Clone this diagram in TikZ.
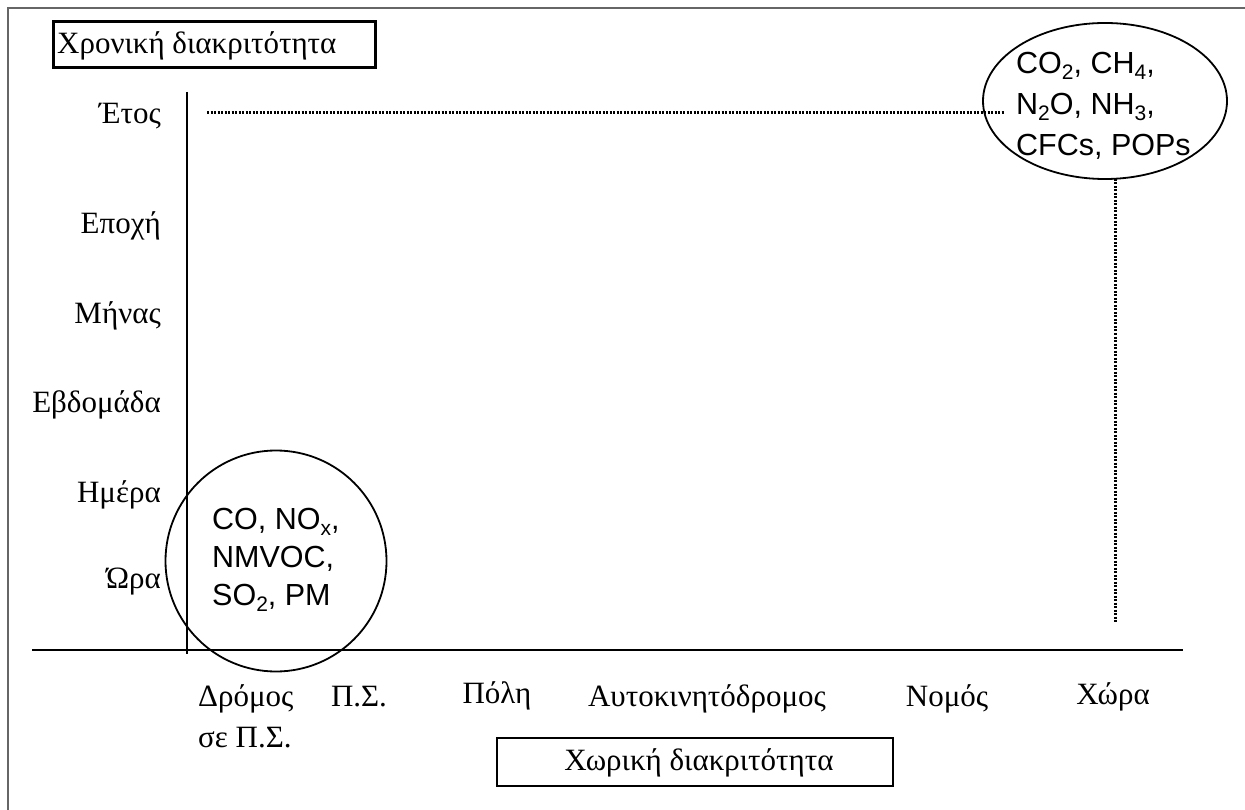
\documentclass[tikz,border=0pt]{standalone}
\usepackage{fontspec}
\setmainfont{Liberation Serif}
\newfontfamily\chemfont{Liberation Sans}
\usetikzlibrary{shapes.geometric}
\newcommand{\lowsub}[1]{{\fontsize{21}{21}\selectfont\raisebox{-0.3em}{#1}}}
\tikzset{
  lbl/.style={font=\fontsize{31}{34}\selectfont, inner sep=0pt},
  ylbl/.style={lbl, anchor=east},
  xlbl/.style={lbl, anchor=base},
  chem/.style={font=\chemfont\fontsize{30.5}{38}\selectfont, align=left, inner sep=0pt, anchor=west},
  axis/.style={line width=2pt},
  dots/.style={line width=3pt, dash pattern=on 2pt off 1.5pt},
  ring/.style={draw, line width=1.8pt, inner sep=0pt}
}
\begin{document}
\begin{tikzpicture}[x=1pt, y=-1pt]
\useasboundingbox (0,0) rectangle (1245,810);
\fill[white] (0,0) rectangle (1245,810);
% page frame
\draw[line width=1.5pt, black!60] (8,810) -- (8,8) -- (1245,8);

% axes
\coordinate (yt) at (187,92);
\coordinate (yb) at (187,654);
\coordinate (xl) at (32,650);
\coordinate (xr) at (1183,650);
\draw[axis] (yt) -- (yb);
\draw[axis] (xl) -- (xr);

% axis titles
\node[draw, line width=3pt, minimum width=322, minimum height=46, inner sep=0pt] (ttl) at (214,45) {};
\node[lbl, anchor=west] (ttltxt) at (57,46) {Χρονική διακριτότητα};
\node[draw, line width=1.5pt, minimum width=396, minimum height=48, inner sep=0pt] (stl) at (695,762) {};
\node[lbl] (stltxt) at (699,763) {Χωρική διακριτότητα};

% time scale
\node[ylbl] (etos) at (161,116) {Έτος};
\node[ylbl] (epoxi) at (161,226) {Εποχή};
\node[ylbl] (minas) at (161,316) {Μήνας};
\node[ylbl] (evd) at (161,405) {Εβδομάδα};
\node[ylbl] (imera) at (161,495) {Ημέρα};
\node[ylbl] (ora) at (161,582) {Ώρα};

% spatial scale
\node[lbl, anchor=base west] (dromos) at (198,706) {Δρόμος};
\node[lbl, anchor=base west] (sepp) at (198,747) {σε Π.Σ.};
\node[xlbl] (ps) at (359,706) {Π.Σ.};
\node[xlbl] (poli) at (497,703) {Πόλη};
\node[xlbl] (auto) at (707,706) {Αυτοκινητόδρομος};
\node[xlbl] (nomos) at (947,706) {Νομός};
\node[xlbl] (xora) at (1113,704) {Χώρα};

% local pollutants
\node[ring, circle, minimum size=221] (loc) at (276,561) {};
\node[chem] (loctxt) at (212,560) {CO, NO\lowsub{x},\\NMVOC,\\SO\lowsub{2}, PM};

% global pollutants
\node[ring, ellipse, minimum width=244, minimum height=156] (glob) at (1105,101) {};
\node[chem, font=\chemfont\fontsize{30.5}{41}\selectfont] (globtxt) at (1016,106) {CO\lowsub{2}, CH\lowsub{4},\\N\lowsub{2}O, NH\lowsub{3},\\CFCs, POPs};

% guide lines
\coordinate (hs) at (207,113);
\coordinate (he) at (1004,113);
\coordinate (vs) at (1115,179);
\coordinate (ve) at (1115,622);
\draw[dots] (hs) -- (he);
\draw[dots] (vs) -- (ve);
\end{tikzpicture}
\end{document}
